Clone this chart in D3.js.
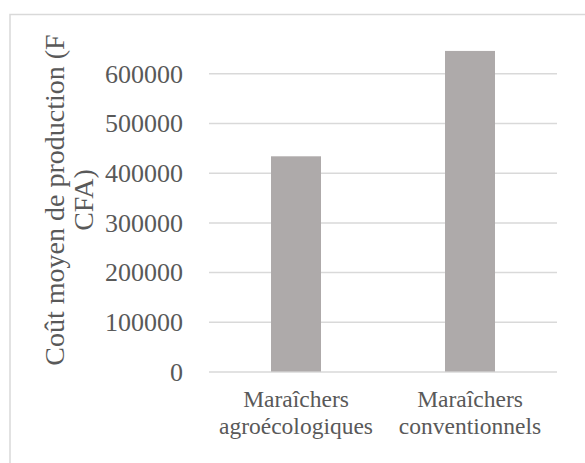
<!DOCTYPE html>
<html>
<head>
<meta charset="utf-8">
<script src="https://cdn.jsdelivr.net/npm/d3@7"></script>
</head>
<body style="margin:0">
<svg id="chart" width="585" height="463" font-family="Liberation Serif" style="display:block;font-family:'Liberation Serif'"></svg>
<script>
// Average production cost per grower group (F CFA)
const categories = ["Maraîchers agroécologiques", "Maraîchers conventionnels"];
const categoryLines = [["Maraîchers", "agroécologiques"], ["Maraîchers", "conventionnels"]];
const costs = [433000, 645000];
const yTicks = [0, 100000, 200000, 300000, 400000, 500000, 600000];
const yTitleLines = ["Coût moyen de production (F", "CFA)"];

const fontName = "Liberation Serif";
const textColor = "#595959";
const svg = d3.select("#chart");

// chart frame (top and left edges visible)
svg.append("path")
  .attr("d", "M10,463 V14.5 H585")
  .attr("fill", "none")
  .attr("stroke", "#d9d9d9")
  .attr("stroke-width", 1.5);

const plot = { left: 209, right: 557, top: 23.6, bottom: 371.5 };

const x = d3.scaleBand()
  .domain(categories)
  .range([plot.left, plot.right])
  .paddingInner(0.7126)
  .paddingOuter(0.3563);

const y = d3.scaleLinear()
  .domain([0, 700000])
  .range([plot.bottom, plot.top]);

// horizontal gridlines with value labels
const yAxis = d3.axisLeft(y)
  .tickValues(yTicks)
  .tickSize(-(plot.right - plot.left))
  .tickFormat(d => d3.format("d")(d));

const gy = svg.append("g")
  .attr("transform", `translate(${plot.left},0)`)
  .call(yAxis)
  .attr("font-family", fontName)
  .attr("font-size", 26);
gy.select(".domain").remove();
gy.selectAll(".tick line")
  .attr("stroke", "#d9d9d9")
  .attr("stroke-width", 1.5);
gy.selectAll(".tick text")
  .attr("x", -26)
  .attr("dy", "0.34em")
  .attr("font-family", fontName)
  .attr("fill", textColor);

// bars
svg.append("g")
  .selectAll("rect")
  .data(categories)
  .join("rect")
  .attr("x", d => x(d))
  .attr("width", x.bandwidth())
  .attr("y", (d, i) => y(costs[i]))
  .attr("height", (d, i) => y(0) - y(costs[i]))
  .attr("fill", "#aeaaaa");

// category labels (two lines each)
const xl = svg.append("g")
  .selectAll("text")
  .data(categories)
  .join("text")
  .attr("text-anchor", "middle")
  .attr("font-family", fontName)
  .attr("font-size", 23.5)
  .attr("fill", textColor)
  .attr("transform", d => `translate(${x(d) + x.bandwidth() / 2},406.5)`);
xl.selectAll("tspan")
  .data((d, i) => categoryLines[i])
  .join("tspan")
  .attr("x", 0)
  .attr("y", (d, j) => j * 27)
  .text(d => d);

// y-axis title
svg.append("text")
  .attr("transform", "translate(64,200) rotate(-90)")
  .attr("text-anchor", "middle")
  .attr("font-family", fontName)
  .attr("font-size", 28)
  .attr("fill", textColor)
  .selectAll("tspan")
  .data(yTitleLines)
  .join("tspan")
  .attr("x", 0)
  .attr("y", (d, j) => j * 29)
  .text(d => d);
</script>
</body>
</html>
